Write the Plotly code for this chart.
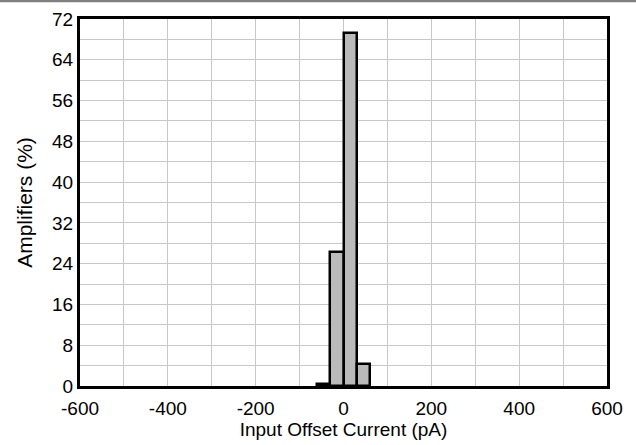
import plotly.graph_objects as go

bin_centers = [-45, -15, 15, 45]
percent = [0.3, 26.3, 69.2, 4.3]
bin_width = 30

x_ticks = [-600, -400, -200, 0, 200, 400, 600]
x_labels = ["-600", "-400", "-200", "0", "200", "400", "600"]
y_ticks = [0, 8, 16, 24, 32, 40, 48, 56, 64, 72]

fig = go.Figure()
fig.add_trace(go.Bar(
    x=bin_centers, y=percent, width=[bin_width] * len(bin_centers),
    marker=dict(color="#bababa", line=dict(color="black", width=2.5)),
    showlegend=False,
))

family = "Liberation Sans, Arial, sans-serif"
tick_font = dict(family=family, size=19, color="black")
xtitle_font = dict(family=family, size=19, color="black")
ytitle_font = dict(family=family, size=21, color="black")

fig.update_layout(
    width=636, height=445,
    margin=dict(l=80, r=29, t=19, b=59, autoexpand=False),
    paper_bgcolor="white", plot_bgcolor="white",
    font=tick_font,
    bargap=0,
    xaxis=dict(
        range=[-600, 600], tickvals=x_ticks, ticktext=x_labels, ticks="", showgrid=True,
        gridcolor="#c8c8c8", gridwidth=1,
        minor=dict(dtick=100, tick0=0, showgrid=True, gridcolor="#c8c8c8", gridwidth=1),
        showline=True, linecolor="black", linewidth=3, mirror=True,
        zeroline=False, automargin=False, ticklabelstandoff=3,
        title=dict(text="Input Offset Current (pA)", standoff=0, font=xtitle_font),
        tickfont=tick_font,
    ),
    yaxis=dict(
        range=[0, 72], tickvals=y_ticks, ticks="", showgrid=True,
        gridcolor="#c8c8c8", gridwidth=1,
        minor=dict(dtick=4, tick0=0, showgrid=True, gridcolor="#c8c8c8", gridwidth=1),
        showline=True, linecolor="black", linewidth=3, mirror=True,
        zeroline=False, automargin=False,
        title=dict(text="Amplifiers (%)", standoff=14, font=ytitle_font),
        tickfont=tick_font,
    ),
    shapes=[dict(
        type="rect", xref="paper", yref="paper",
        x0=-0.16, x1=1.06, y0=1.0455, y1=1.06,
        fillcolor="#808080", line=dict(width=0), layer="above",
    )],
)

fig.write_html("out.html", config={"displayModeBar": False},
               post_script="document.body.style.margin='0px';")
